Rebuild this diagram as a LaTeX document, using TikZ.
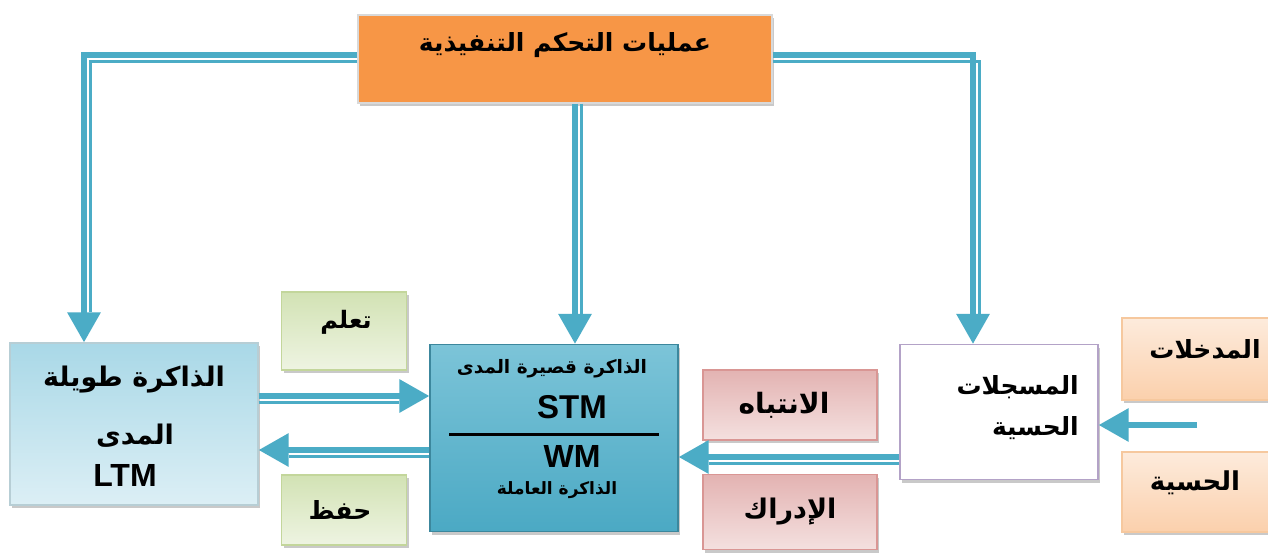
\documentclass[tikz,border=0pt]{standalone}
\usepackage{fontspec}
\setmainfont{Liberation Sans}
\newfontfamily\arabicfont[Script=Arabic]{DejaVu Sans}
\TeXXeTstate=1
\usetikzlibrary{arrows.meta,shadows,calc}
\definecolor{arr}{HTML}{4BACC6}
\definecolor{orangeA}{HTML}{F79646}
\definecolor{ltmA}{HTML}{A9D8E7}
\definecolor{ltmB}{HTML}{DCEFF5}
\definecolor{stmA}{HTML}{7CC4D8}
\definecolor{stmB}{HTML}{4BA9C4}
\definecolor{grnA}{HTML}{D2E2B4}
\definecolor{grnB}{HTML}{EEF4E2}
\definecolor{grnD}{HTML}{C3D69B}
\definecolor{pnkA}{HTML}{E3B3B2}
\definecolor{pnkB}{HTML}{F4E0DF}
\definecolor{pnkD}{HTML}{D99694}
\definecolor{purD}{HTML}{B3A2C7}
\definecolor{orgA}{HTML}{FBD0AC}
\definecolor{orgB}{HTML}{FDEBDC}
\definecolor{orgD}{HTML}{F6C89E}
\newcommand\artx[1]{{\arabicfont\bfseries\beginR #1\endR}}
\tikzset{
  box/.style={rectangle, inner sep=0pt, line width=1.2pt,
    drop shadow={shadow xshift=2pt, shadow yshift=-3pt, fill=black!35, opacity=0.6}},
  conn/.style={draw=arr, line width=6pt, -{Triangle[width=32pt,length=30pt]}},
  connthin/.style={draw=arr, line width=2.5pt, shorten >=30pt},
  txt/.style={inner sep=0pt, text=black},
}
\begin{document}
\begin{tikzpicture}[x=1pt,y=1pt]
\useasboundingbox[fill=white] (0,0) rectangle (1268,-558);

% boxes
\node[box, draw=black!15, fill=orangeA, minimum width=414pt, minimum height=88pt] (top) at (565,-59) {};
\node[txt, font=\fontsize{25}{28}\selectfont] (toptxt) at (565,-45) {\artx{عمليات التحكم التنفيذية}};

\node[box, draw=ltmA!80!black!60, top color=ltmA, bottom color=ltmB, minimum width=248pt, minimum height=162pt] (ltm) at (134,-424) {};
\node[txt, font=\fontsize{27}{30}\selectfont] (ltm1) at (134,-380) {\artx{الذاكرة طويلة}};
\node[txt, font=\fontsize{27}{30}\selectfont] (ltm2) at (135,-436) {\artx{المدى}};
\node[txt, font=\bfseries\fontsize{32}{34}\selectfont] (ltm3) at (125,-475) {LTM};

\node[box, draw=stmB!80!black, top color=stmA, bottom color=stmB, minimum width=248pt, minimum height=187pt] (stm) at (554,-438) {};
\node[txt, font=\fontsize{18.5}{20}\selectfont] (stm1) at (552,-369) {\artx{الذاكرة قصيرة المدى}};
\node[txt, font=\bfseries\fontsize{33}{34}\selectfont] (stm2) at (572,-407) {STM};
\draw[line width=3pt, black] ($(stm.west)+(20,4)$) coordinate (rl) -- ($(stm.east)+(-20,4)$) coordinate (rr);
\node[txt, font=\bfseries\fontsize{32}{34}\selectfont] (stm3) at (572,-456) {WM};
\node[txt, font=\fontsize{17}{20}\selectfont] (stm4) at (557,-490) {\artx{الذاكرة العاملة}};

\node[box, draw=grnD, top color=grnA, bottom color=grnB, minimum width=125pt, minimum height=78pt] (learn) at (344,-331) {};
\node[txt, font=\fontsize{24}{28}\selectfont] (learntxt) at (346,-322) {\artx{تعلم}};
\node[box, draw=grnD, top color=grnA, bottom color=grnB, minimum width=125pt, minimum height=70pt] (keep) at (344,-510) {};
\node[txt, font=\fontsize{25}{28}\selectfont] (keeptxt) at (340,-510) {\artx{حفظ}};

\node[box, draw=pnkD, top color=pnkA, bottom color=pnkB, minimum width=174pt, minimum height=70pt] (attn) at (790,-405) {};
\node[txt, font=\fontsize{28}{30}\selectfont] (attntxt) at (784,-405) {\artx{الانتباه}};
\node[box, draw=pnkD, top color=pnkA, bottom color=pnkB, minimum width=174pt, minimum height=75pt] (perc) at (790,-512) {};
\node[txt, font=\fontsize{27}{30}\selectfont] (perctxt) at (790,-512) {\artx{الإدراك}};

\node[box, draw=purD, fill=white, minimum width=198pt, minimum height=135pt] (sens) at (999,-412) {};
\node[txt, font=\fontsize{25}{28}\selectfont, anchor=east] (sens1) at (1079,-387) {\artx{المسجلات}};
\node[txt, font=\fontsize{25}{28}\selectfont, anchor=east] (sens2) at (1079,-428) {\artx{الحسية}};

\node[box, draw=orgD, top color=orgB, bottom color=orgA, minimum width=156pt, minimum height=82pt] (in1) at (1200,-359) {};
\node[txt, font=\fontsize{25}{28}\selectfont] (in1txt) at (1205,-349) {\artx{المدخلات}};
\node[box, draw=orgD, top color=orgB, bottom color=orgA, minimum width=156pt, minimum height=80pt] (in2) at (1200,-492) {};
\node[txt, font=\fontsize{26}{28}\selectfont] (in2txt) at (1195,-483) {\artx{الحسية}};

\coordinate (inp) at (1197,-425);

% connectors
\draw[conn] ([yshift=4pt]top.west) -| ([xshift=-50pt]ltm.north);
\draw[connthin] ([yshift=-2.5pt]top.west) -| ([xshift=-43.5pt]ltm.north);

\draw[conn] ([yshift=4pt]top.east) -| ([xshift=-26pt]sens.north);
\draw[connthin] ([yshift=-2.5pt]top.east) -| ([xshift=-19.5pt]sens.north);

\draw[conn] ([xshift=10pt]top.south) -- ([xshift=10pt]top.south |- stm.north);
\draw[connthin] ([xshift=16.5pt]top.south) -- ([xshift=16.5pt]top.south |- stm.north);

\draw[conn] ([yshift=28pt]ltm.east) -- ([yshift=28pt]ltm.east -| stm.west);
\draw[connthin] ([yshift=21.5pt]ltm.east) -- ([yshift=21.5pt]ltm.east -| stm.west);

\draw[conn] ([yshift=-26pt]ltm.east -| stm.west) -- ([yshift=-26pt]ltm.east);
\draw[connthin] ([yshift=-32.5pt]ltm.east -| stm.west) -- ([yshift=-32.5pt]ltm.east);

\draw[conn] ([yshift=-45pt]sens.west) -- ([yshift=-45pt]sens.west -| stm.east);
\draw[connthin] ([yshift=-51.5pt]sens.west) -- ([yshift=-51.5pt]sens.west -| stm.east);

\draw[conn] (inp) -- (inp -| sens.east);
\end{tikzpicture}
\end{document}
